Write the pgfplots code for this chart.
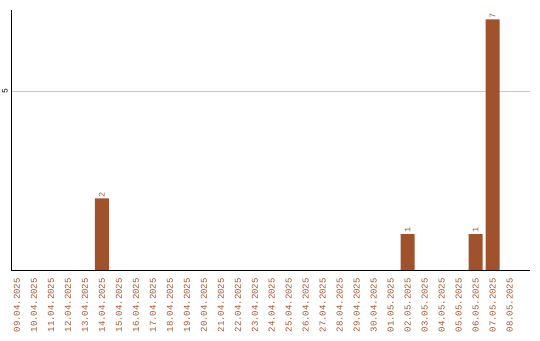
\documentclass[border=0pt]{standalone}
\usepackage{pgfplots}
\pgfplotsset{compat=1.18}
\usepackage{pgfplotstable}
\usepackage{fontspec}
\setmainfont{Liberation Mono}
\definecolor{barbrown}{HTML}{A0522D}
\definecolor{gridgray}{HTML}{C8C8C8}

% days with a non-zero count (index 0 = 09.04.2025)
\pgfplotstableread{
idx val
5 2
23 1
27 1
28 7
}\counts

\begin{document}
\begin{tikzpicture}[x=1pt,y=1pt]
\begin{axis}[
  at={(0,0)}, anchor=south west,
  scale only axis,
  width=519pt, height=260pt,
  xmin=-0.35, xmax=30.2,
  ymin=0, ymax=7.26,
  axis x line*=bottom, axis y line*=left,
  axis line style={black, line width=1pt, -},
  xtick={0,...,29},
  xticklabels={09.04.2025,10.04.2025,11.04.2025,12.04.2025,13.04.2025,14.04.2025,15.04.2025,16.04.2025,17.04.2025,18.04.2025,19.04.2025,20.04.2025,21.04.2025,22.04.2025,23.04.2025,24.04.2025,25.04.2025,26.04.2025,27.04.2025,28.04.2025,29.04.2025,30.04.2025,01.05.2025,02.05.2025,03.05.2025,04.05.2025,05.05.2025,06.05.2025,07.05.2025,08.05.2025},
  xticklabel style={rotate=90, anchor=east, font=\fontsize{9}{9}\selectfont, text=barbrown, inner sep=0pt},
  ytick={5},
  yticklabel style={rotate=90, anchor=south, font=\fontsize{8}{8}\selectfont, inner sep=0pt},
  yticklabel shift=3pt,
  xticklabel shift=8pt,
  major tick length=0pt,
  ymajorgrids, grid style={gridgray, line width=0.8pt},
  /pgf/number format/assume math mode=true,
  clip=false,
]
\addplot[ybar, bar width=14pt, fill=barbrown, draw=none,
  nodes near coords={\pgfmathprintnumber{\pgfplotspointmeta}},
  nodes near coords style={rotate=90, anchor=west, font=\fontsize{8.5}{8.5}\selectfont, text=barbrown, inner sep=1pt},
  point meta=explicit,
] table[x=idx, y=val, meta=val] {\counts};
\end{axis}
\path (-11,-70) rectangle (529,270);
\end{tikzpicture}
\end{document}
